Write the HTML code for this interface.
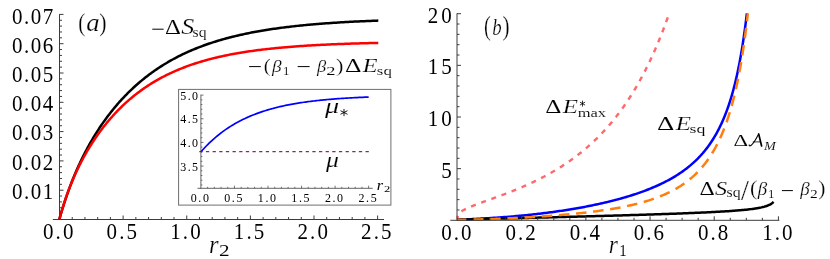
<!DOCTYPE html>
<html><head><meta charset="utf-8"><title>fig</title>
<style>
html,body{margin:0;padding:0;background:#fff;}
body{width:830px;height:259px;overflow:hidden;}
svg{display:block;will-change:transform;}
svg text{font-family:"Liberation Serif",serif;fill:#000;}
</style></head><body>
<svg width="830" height="259" viewBox="0 0 830 259">
<rect width="830" height="259" fill="#fff"/>
<g fill="none" stroke-linejoin="round">
<path d="M59.30,219.50 L59.71,218.06 L60.12,216.61 L60.54,215.17 L60.96,213.73 L61.38,212.29 L61.81,210.85 L62.25,209.42 L62.69,207.98 L63.14,206.55 L63.59,205.12 L64.05,203.69 L64.51,202.26 L64.98,200.83 L65.45,199.41 L65.93,197.99 L66.41,196.57 L66.90,195.15 L67.40,193.73 L67.90,192.32 L68.40,190.90 L68.92,189.49 L69.43,188.08 L69.96,186.68 L70.49,185.27 L71.03,183.87 L71.57,182.47 L72.12,181.08 L72.67,179.68 L73.23,178.29 L73.80,176.90 L74.37,175.51 L74.95,174.13 L75.54,172.75 L76.13,171.37 L76.73,169.99 L77.34,168.62 L77.95,167.25 L78.57,165.88 L79.20,164.52 L79.83,163.16 L80.47,161.80 L81.11,160.44 L81.77,159.09 L82.43,157.74 L83.09,156.40 L83.77,155.06 L84.45,153.72 L85.14,152.39 L85.83,151.06 L86.53,149.73 L87.24,148.41 L87.96,147.09 L88.68,145.77 L89.41,144.46 L90.15,143.16 L90.89,141.85 L91.65,140.55 L92.41,139.26 L93.17,137.97 L93.95,136.68 L94.73,135.40 L95.52,134.13 L96.32,132.85 L97.12,131.59 L97.93,130.33 L98.75,129.07 L99.58,127.81 L100.41,126.57 L101.26,125.32 L102.10,124.09 L102.96,122.86 L103.83,121.63 L104.70,120.41 L105.58,119.19 L106.47,117.98 L107.36,116.78 L108.27,115.58 L109.18,114.39 L110.10,113.20 L111.02,112.02 L111.96,110.85 L112.90,109.68 L113.85,108.52 L114.81,107.36 L115.77,106.21 L116.75,105.07 L117.73,103.93 L118.72,102.80 L119.71,101.68 L120.72,100.57 L121.73,99.46 L122.75,98.36 L123.78,97.27 L124.82,96.18 L125.86,95.10 L126.91,94.03 L127.97,92.97 L129.04,91.91 L130.11,90.86 L131.20,89.82 L132.29,88.79 L133.38,87.77 L134.49,86.75 L135.60,85.75 L136.72,84.75 L137.85,83.76 L138.99,82.78 L140.13,81.80 L141.28,80.84 L142.44,79.88 L143.60,78.94 L144.77,78.00 L145.95,77.07 L147.14,76.15 L148.33,75.24 L149.53,74.34 L150.74,73.45 L151.95,72.56 L153.17,71.69 L154.40,70.83 L155.63,69.97 L156.87,69.13 L158.12,68.29 L159.37,67.46 L160.63,66.65 L161.90,65.84 L163.17,65.04 L164.45,64.26 L165.73,63.48 L167.02,62.71 L168.31,61.95 L169.61,61.20 L170.92,60.46 L172.23,59.73 L173.55,59.01 L174.87,58.30 L176.20,57.60 L177.53,56.91 L178.87,56.23 L180.21,55.56 L181.56,54.89 L182.91,54.24 L184.26,53.60 L185.62,52.96 L186.99,52.34 L188.36,51.72 L189.73,51.11 L191.11,50.52 L192.49,49.93 L193.87,49.35 L195.26,48.78 L196.65,48.22 L198.05,47.66 L199.44,47.12 L200.85,46.58 L202.25,46.06 L203.66,45.54 L205.07,45.03 L206.49,44.53 L207.90,44.03 L209.32,43.55 L210.75,43.07 L212.17,42.60 L213.60,42.14 L215.03,41.69 L216.47,41.24 L217.90,40.80 L219.34,40.37 L220.78,39.95 L222.22,39.53 L223.66,39.12 L225.11,38.72 L226.56,38.33 L228.01,37.94 L229.46,37.56 L230.91,37.18 L232.37,36.82 L233.83,36.46 L235.28,36.10 L236.74,35.75 L238.21,35.41 L239.67,35.08 L241.13,34.75 L242.60,34.42 L244.07,34.11 L245.53,33.80 L247.00,33.49 L248.47,33.19 L249.95,32.89 L251.42,32.60 L252.89,32.32 L254.37,32.04 L255.84,31.77 L257.32,31.50 L258.80,31.24 L260.27,30.98 L261.75,30.72 L263.23,30.47 L264.71,30.23 L266.20,29.99 L267.68,29.75 L269.16,29.52 L270.65,29.30 L272.13,29.07 L273.61,28.86 L275.10,28.64 L276.59,28.43 L278.07,28.23 L279.56,28.03 L281.05,27.83 L282.54,27.63 L284.02,27.44 L285.51,27.26 L287.00,27.07 L288.49,26.89 L289.98,26.72 L291.48,26.54 L292.97,26.37 L294.46,26.21 L295.95,26.04 L297.44,25.88 L298.93,25.73 L300.43,25.57 L301.92,25.42 L303.41,25.27 L304.91,25.13 L306.40,24.98 L307.90,24.84 L309.39,24.71 L310.89,24.57 L312.38,24.44 L313.88,24.31 L315.37,24.18 L316.87,24.06 L318.36,23.94 L319.86,23.82 L321.36,23.70 L322.85,23.59 L324.35,23.47 L325.85,23.36 L327.34,23.25 L328.84,23.15 L330.34,23.04 L331.83,22.94 L333.33,22.84 L334.83,22.74 L336.33,22.65 L337.83,22.55 L339.32,22.46 L340.82,22.37 L342.32,22.28 L343.82,22.19 L345.32,22.11 L346.81,22.02 L348.31,21.94 L349.81,21.86 L351.31,21.78 L352.81,21.70 L354.31,21.62 L355.81,21.55 L357.31,21.48 L358.81,21.40 L360.31,21.33 L361.80,21.27 L363.30,21.20 L364.80,21.13 L366.30,21.07 L367.80,21.00 L369.30,20.94 L370.80,20.88 L372.30,20.82 L373.80,20.76 L375.30,20.70 L376.80,20.64 L378.30,20.59" stroke="#000" stroke-width="2.5"/>
<path d="M59.30,219.50 L59.69,218.05 L60.09,216.60 L60.50,215.15 L60.91,213.71 L61.33,212.26 L61.75,210.82 L62.19,209.38 L62.62,207.94 L63.07,206.51 L63.52,205.07 L63.98,203.64 L64.44,202.21 L64.91,200.78 L65.39,199.36 L65.87,197.93 L66.37,196.51 L66.87,195.09 L67.37,193.68 L67.89,192.27 L68.41,190.86 L68.94,189.45 L69.47,188.04 L70.02,186.64 L70.57,185.24 L71.13,183.85 L71.70,182.46 L72.27,181.07 L72.85,179.68 L73.44,178.30 L74.04,176.92 L74.65,175.54 L75.26,174.17 L75.89,172.80 L76.52,171.44 L77.16,170.08 L77.80,168.72 L78.46,167.37 L79.12,166.02 L79.79,164.67 L80.47,163.33 L81.16,161.99 L81.85,160.66 L82.56,159.33 L83.27,158.01 L83.99,156.69 L84.72,155.37 L85.46,154.06 L86.20,152.76 L86.96,151.46 L87.72,150.16 L88.49,148.87 L89.27,147.58 L90.05,146.30 L90.85,145.03 L91.65,143.76 L92.47,142.49 L93.29,141.23 L94.12,139.98 L94.95,138.73 L95.80,137.49 L96.66,136.25 L97.52,135.02 L98.39,133.80 L99.27,132.58 L100.16,131.36 L101.06,130.16 L101.96,128.96 L102.88,127.76 L103.80,126.58 L104.73,125.40 L105.67,124.23 L106.62,123.06 L107.58,121.90 L108.55,120.75 L109.52,119.60 L110.50,118.47 L111.50,117.34 L112.50,116.22 L113.51,115.10 L114.52,113.99 L115.55,112.90 L116.59,111.81 L117.63,110.72 L118.68,109.65 L119.74,108.59 L120.81,107.53 L121.89,106.48 L122.98,105.44 L124.08,104.41 L125.18,103.39 L126.29,102.38 L127.41,101.38 L128.54,100.39 L129.68,99.40 L130.82,98.43 L131.98,97.47 L133.14,96.51 L134.31,95.57 L135.49,94.63 L136.67,93.71 L137.87,92.80 L139.07,91.89 L140.28,91.00 L141.49,90.12 L142.72,89.24 L143.95,88.38 L145.19,87.53 L146.44,86.69 L147.69,85.86 L148.95,85.04 L150.22,84.23 L151.49,83.43 L152.77,82.65 L154.06,81.87 L155.36,81.11 L156.66,80.35 L157.96,79.61 L159.28,78.88 L160.59,78.15 L161.92,77.44 L163.25,76.74 L164.59,76.05 L165.93,75.37 L167.27,74.71 L168.63,74.05 L169.98,73.40 L171.35,72.77 L172.71,72.14 L174.08,71.52 L175.46,70.92 L176.84,70.32 L178.23,69.74 L179.62,69.16 L181.01,68.60 L182.41,68.05 L183.81,67.50 L185.21,66.97 L186.62,66.44 L188.03,65.92 L189.45,65.42 L190.87,64.92 L192.29,64.43 L193.71,63.95 L195.14,63.48 L196.57,63.02 L198.01,62.57 L199.44,62.13 L200.88,61.69 L202.32,61.27 L203.77,60.85 L205.22,60.44 L206.66,60.03 L208.11,59.64 L209.57,59.25 L211.02,58.87 L212.48,58.50 L213.94,58.14 L215.40,57.78 L216.86,57.43 L218.32,57.09 L219.79,56.76 L221.26,56.43 L222.73,56.11 L224.20,55.79 L225.67,55.48 L227.14,55.18 L228.61,54.88 L230.09,54.59 L231.57,54.31 L233.04,54.03 L234.52,53.76 L236.00,53.49 L237.48,53.23 L238.96,52.98 L240.45,52.73 L241.93,52.48 L243.41,52.24 L244.90,52.01 L246.38,51.78 L247.87,51.55 L249.36,51.33 L250.85,51.12 L252.33,50.91 L253.82,50.70 L255.31,50.50 L256.80,50.30 L258.30,50.11 L259.79,49.92 L261.28,49.73 L262.77,49.55 L264.26,49.37 L265.76,49.20 L267.25,49.03 L268.75,48.87 L270.24,48.70 L271.74,48.54 L273.23,48.39 L274.73,48.24 L276.22,48.09 L277.72,47.94 L279.22,47.80 L280.71,47.66 L282.21,47.52 L283.71,47.39 L285.20,47.26 L286.70,47.13 L288.20,47.01 L289.70,46.88 L291.20,46.76 L292.70,46.65 L294.20,46.53 L295.70,46.42 L297.19,46.31 L298.69,46.20 L300.19,46.10 L301.69,46.00 L303.19,45.90 L304.69,45.80 L306.19,45.70 L307.70,45.61 L309.20,45.52 L310.70,45.43 L312.20,45.34 L313.70,45.25 L315.20,45.17 L316.70,45.09 L318.20,45.01 L319.70,44.93 L321.20,44.85 L322.71,44.77 L324.21,44.70 L325.71,44.63 L327.21,44.56 L328.71,44.49 L330.22,44.42 L331.72,44.36 L333.22,44.29 L334.72,44.23 L336.22,44.17 L337.73,44.11 L339.23,44.05 L340.73,43.99 L342.23,43.93 L343.74,43.88 L345.24,43.82 L346.74,43.77 L348.24,43.72 L349.75,43.67 L351.25,43.62 L352.75,43.57 L354.25,43.52 L355.76,43.48 L357.26,43.43 L358.76,43.39 L360.26,43.34 L361.77,43.30 L363.27,43.26 L364.77,43.22 L366.28,43.18 L367.78,43.14 L369.28,43.10 L370.78,43.07 L372.29,43.03 L373.79,42.99 L375.29,42.96 L376.80,42.93 L378.30,42.89" stroke="#f00" stroke-width="2.5"/>
</g>
<line x1="52.80" y1="219.50" x2="384.00" y2="219.50" stroke="#3c3c3c" stroke-width="1"/>
<line x1="59.50" y1="14.20" x2="59.50" y2="220.00" stroke="#3c3c3c" stroke-width="1"/>
<line x1="72.22" y1="217.00" x2="72.22" y2="219.50" stroke="#3c3c3c" stroke-width="1"/>
<line x1="84.95" y1="217.00" x2="84.95" y2="219.50" stroke="#3c3c3c" stroke-width="1"/>
<line x1="97.68" y1="217.00" x2="97.68" y2="219.50" stroke="#3c3c3c" stroke-width="1"/>
<line x1="110.40" y1="217.00" x2="110.40" y2="219.50" stroke="#3c3c3c" stroke-width="1"/>
<line x1="123.12" y1="215.50" x2="123.12" y2="219.50" stroke="#3c3c3c" stroke-width="1"/>
<line x1="135.85" y1="217.00" x2="135.85" y2="219.50" stroke="#3c3c3c" stroke-width="1"/>
<line x1="148.57" y1="217.00" x2="148.57" y2="219.50" stroke="#3c3c3c" stroke-width="1"/>
<line x1="161.30" y1="217.00" x2="161.30" y2="219.50" stroke="#3c3c3c" stroke-width="1"/>
<line x1="174.03" y1="217.00" x2="174.03" y2="219.50" stroke="#3c3c3c" stroke-width="1"/>
<line x1="186.75" y1="215.50" x2="186.75" y2="219.50" stroke="#3c3c3c" stroke-width="1"/>
<line x1="199.48" y1="217.00" x2="199.48" y2="219.50" stroke="#3c3c3c" stroke-width="1"/>
<line x1="212.20" y1="217.00" x2="212.20" y2="219.50" stroke="#3c3c3c" stroke-width="1"/>
<line x1="224.93" y1="217.00" x2="224.93" y2="219.50" stroke="#3c3c3c" stroke-width="1"/>
<line x1="237.65" y1="217.00" x2="237.65" y2="219.50" stroke="#3c3c3c" stroke-width="1"/>
<line x1="250.38" y1="215.50" x2="250.38" y2="219.50" stroke="#3c3c3c" stroke-width="1"/>
<line x1="263.10" y1="217.00" x2="263.10" y2="219.50" stroke="#3c3c3c" stroke-width="1"/>
<line x1="275.83" y1="217.00" x2="275.83" y2="219.50" stroke="#3c3c3c" stroke-width="1"/>
<line x1="288.55" y1="217.00" x2="288.55" y2="219.50" stroke="#3c3c3c" stroke-width="1"/>
<line x1="301.27" y1="217.00" x2="301.27" y2="219.50" stroke="#3c3c3c" stroke-width="1"/>
<line x1="314.00" y1="215.50" x2="314.00" y2="219.50" stroke="#3c3c3c" stroke-width="1"/>
<line x1="326.73" y1="217.00" x2="326.73" y2="219.50" stroke="#3c3c3c" stroke-width="1"/>
<line x1="339.45" y1="217.00" x2="339.45" y2="219.50" stroke="#3c3c3c" stroke-width="1"/>
<line x1="352.18" y1="217.00" x2="352.18" y2="219.50" stroke="#3c3c3c" stroke-width="1"/>
<line x1="364.90" y1="217.00" x2="364.90" y2="219.50" stroke="#3c3c3c" stroke-width="1"/>
<line x1="377.62" y1="215.50" x2="377.62" y2="219.50" stroke="#3c3c3c" stroke-width="1"/>
<line x1="59.50" y1="213.64" x2="62.00" y2="213.64" stroke="#3c3c3c" stroke-width="1"/>
<line x1="59.50" y1="207.78" x2="62.00" y2="207.78" stroke="#3c3c3c" stroke-width="1"/>
<line x1="59.50" y1="201.92" x2="62.00" y2="201.92" stroke="#3c3c3c" stroke-width="1"/>
<line x1="59.50" y1="196.06" x2="62.00" y2="196.06" stroke="#3c3c3c" stroke-width="1"/>
<line x1="59.50" y1="190.20" x2="63.50" y2="190.20" stroke="#3c3c3c" stroke-width="1"/>
<line x1="59.50" y1="184.34" x2="62.00" y2="184.34" stroke="#3c3c3c" stroke-width="1"/>
<line x1="59.50" y1="178.48" x2="62.00" y2="178.48" stroke="#3c3c3c" stroke-width="1"/>
<line x1="59.50" y1="172.62" x2="62.00" y2="172.62" stroke="#3c3c3c" stroke-width="1"/>
<line x1="59.50" y1="166.76" x2="62.00" y2="166.76" stroke="#3c3c3c" stroke-width="1"/>
<line x1="59.50" y1="160.90" x2="63.50" y2="160.90" stroke="#3c3c3c" stroke-width="1"/>
<line x1="59.50" y1="155.04" x2="62.00" y2="155.04" stroke="#3c3c3c" stroke-width="1"/>
<line x1="59.50" y1="149.18" x2="62.00" y2="149.18" stroke="#3c3c3c" stroke-width="1"/>
<line x1="59.50" y1="143.32" x2="62.00" y2="143.32" stroke="#3c3c3c" stroke-width="1"/>
<line x1="59.50" y1="137.46" x2="62.00" y2="137.46" stroke="#3c3c3c" stroke-width="1"/>
<line x1="59.50" y1="131.60" x2="63.50" y2="131.60" stroke="#3c3c3c" stroke-width="1"/>
<line x1="59.50" y1="125.74" x2="62.00" y2="125.74" stroke="#3c3c3c" stroke-width="1"/>
<line x1="59.50" y1="119.88" x2="62.00" y2="119.88" stroke="#3c3c3c" stroke-width="1"/>
<line x1="59.50" y1="114.02" x2="62.00" y2="114.02" stroke="#3c3c3c" stroke-width="1"/>
<line x1="59.50" y1="108.16" x2="62.00" y2="108.16" stroke="#3c3c3c" stroke-width="1"/>
<line x1="59.50" y1="102.30" x2="63.50" y2="102.30" stroke="#3c3c3c" stroke-width="1"/>
<line x1="59.50" y1="96.44" x2="62.00" y2="96.44" stroke="#3c3c3c" stroke-width="1"/>
<line x1="59.50" y1="90.58" x2="62.00" y2="90.58" stroke="#3c3c3c" stroke-width="1"/>
<line x1="59.50" y1="84.72" x2="62.00" y2="84.72" stroke="#3c3c3c" stroke-width="1"/>
<line x1="59.50" y1="78.86" x2="62.00" y2="78.86" stroke="#3c3c3c" stroke-width="1"/>
<line x1="59.50" y1="73.00" x2="63.50" y2="73.00" stroke="#3c3c3c" stroke-width="1"/>
<line x1="59.50" y1="67.14" x2="62.00" y2="67.14" stroke="#3c3c3c" stroke-width="1"/>
<line x1="59.50" y1="61.28" x2="62.00" y2="61.28" stroke="#3c3c3c" stroke-width="1"/>
<line x1="59.50" y1="55.42" x2="62.00" y2="55.42" stroke="#3c3c3c" stroke-width="1"/>
<line x1="59.50" y1="49.56" x2="62.00" y2="49.56" stroke="#3c3c3c" stroke-width="1"/>
<line x1="59.50" y1="43.70" x2="63.50" y2="43.70" stroke="#3c3c3c" stroke-width="1"/>
<line x1="59.50" y1="37.84" x2="62.00" y2="37.84" stroke="#3c3c3c" stroke-width="1"/>
<line x1="59.50" y1="31.98" x2="62.00" y2="31.98" stroke="#3c3c3c" stroke-width="1"/>
<line x1="59.50" y1="26.12" x2="62.00" y2="26.12" stroke="#3c3c3c" stroke-width="1"/>
<line x1="59.50" y1="20.26" x2="62.00" y2="20.26" stroke="#3c3c3c" stroke-width="1"/>
<line x1="59.50" y1="14.40" x2="63.50" y2="14.40" stroke="#3c3c3c" stroke-width="1"/>
<text transform="translate(59.20,239.40) scale(1,1.055)" font-size="21" text-anchor="middle" letter-spacing="2.1">0.0</text>
<text transform="translate(122.83,239.40) scale(1,1.055)" font-size="21" text-anchor="middle" letter-spacing="2.1">0.5</text>
<text transform="translate(186.45,239.40) scale(1,1.055)" font-size="21" text-anchor="middle" letter-spacing="2.1">1.0</text>
<text transform="translate(250.07,239.40) scale(1,1.055)" font-size="21" text-anchor="middle" letter-spacing="2.1">1.5</text>
<text transform="translate(313.70,239.40) scale(1,1.055)" font-size="21" text-anchor="middle" letter-spacing="2.1">2.0</text>
<text transform="translate(377.32,239.40) scale(1,1.055)" font-size="21" text-anchor="middle" letter-spacing="2.1">2.5</text>
<text transform="translate(54.80,198.60) scale(1,1.055)" font-size="21" text-anchor="end" letter-spacing="1.5">0.01</text>
<text transform="translate(54.80,169.52) scale(1,1.055)" font-size="21" text-anchor="end" letter-spacing="1.5">0.02</text>
<text transform="translate(54.80,140.43) scale(1,1.055)" font-size="21" text-anchor="end" letter-spacing="1.5">0.03</text>
<text transform="translate(54.80,111.35) scale(1,1.055)" font-size="21" text-anchor="end" letter-spacing="1.5">0.04</text>
<text transform="translate(54.80,82.27) scale(1,1.055)" font-size="21" text-anchor="end" letter-spacing="1.5">0.05</text>
<text transform="translate(54.80,53.18) scale(1,1.055)" font-size="21" text-anchor="end" letter-spacing="1.5">0.06</text>
<text transform="translate(54.80,24.10) scale(1,1.055)" font-size="21" text-anchor="end" letter-spacing="1.5">0.07</text>
<rect x="178.6" y="89.4" width="212.3" height="115.7" fill="#fff" stroke="#6e6e6e" stroke-width="1"/>
<line x1="199.3" y1="151.6" x2="370.6" y2="151.6" stroke="#8c2463" stroke-width="1.3" stroke-dasharray="3.25 3.4"/>
<path d="M200.90,151.86 L202.31,150.27 L203.72,148.73 L205.13,147.23 L206.54,145.77 L207.95,144.36 L209.36,142.98 L210.77,141.64 L212.18,140.34 L213.59,139.07 L215.00,137.84 L216.41,136.65 L217.82,135.49 L219.23,134.36 L220.64,133.26 L222.04,132.19 L223.45,131.16 L224.86,130.15 L226.27,129.17 L227.68,128.21 L229.09,127.29 L230.50,126.39 L231.91,125.51 L233.32,124.66 L234.73,123.84 L236.14,123.03 L237.55,122.25 L238.96,121.49 L240.37,120.75 L241.78,120.04 L243.19,119.34 L244.60,118.66 L246.01,118.00 L247.42,117.36 L248.83,116.74 L250.24,116.13 L251.65,115.55 L253.06,114.97 L254.47,114.42 L255.88,113.88 L257.29,113.35 L258.70,112.84 L260.11,112.35 L261.52,111.87 L262.93,111.40 L264.33,110.94 L265.74,110.50 L267.15,110.07 L268.56,109.65 L269.97,109.24 L271.38,108.85 L272.79,108.46 L274.20,108.09 L275.61,107.73 L277.02,107.37 L278.43,107.03 L279.84,106.70 L281.25,106.37 L282.66,106.06 L284.07,105.75 L285.48,105.45 L286.89,105.16 L288.30,104.88 L289.71,104.61 L291.12,104.34 L292.53,104.08 L293.94,103.83 L295.35,103.59 L296.76,103.35 L298.17,103.12 L299.58,102.90 L300.99,102.68 L302.40,102.47 L303.81,102.26 L305.22,102.06 L306.62,101.86 L308.03,101.68 L309.44,101.49 L310.85,101.31 L312.26,101.14 L313.67,100.97 L315.08,100.81 L316.49,100.65 L317.90,100.49 L319.31,100.34 L320.72,100.19 L322.13,100.05 L323.54,99.91 L324.95,99.78 L326.36,99.65 L327.77,99.52 L329.18,99.40 L330.59,99.28 L332.00,99.16 L333.41,99.05 L334.82,98.94 L336.23,98.83 L337.64,98.72 L339.05,98.62 L340.46,98.52 L341.87,98.43 L343.28,98.34 L344.69,98.25 L346.10,98.16 L347.51,98.07 L348.91,97.99 L350.32,97.91 L351.73,97.83 L353.14,97.75 L354.55,97.68 L355.96,97.61 L357.37,97.54 L358.78,97.47 L360.19,97.40 L361.60,97.34 L363.01,97.28 L364.42,97.21 L365.83,97.16 L367.24,97.10 L368.65,97.04" fill="none" stroke="#00f" stroke-width="1.7"/>
<line x1="197.50" y1="188.30" x2="372.65" y2="188.30" stroke="#3c3c3c" stroke-width="0.8"/>
<line x1="200.90" y1="94.70" x2="200.90" y2="188.70" stroke="#3c3c3c" stroke-width="0.8"/>
<line x1="207.61" y1="186.80" x2="207.61" y2="188.30" stroke="#3c3c3c" stroke-width="0.7"/>
<line x1="214.32" y1="186.80" x2="214.32" y2="188.30" stroke="#3c3c3c" stroke-width="0.7"/>
<line x1="221.03" y1="186.80" x2="221.03" y2="188.30" stroke="#3c3c3c" stroke-width="0.7"/>
<line x1="227.74" y1="186.80" x2="227.74" y2="188.30" stroke="#3c3c3c" stroke-width="0.7"/>
<line x1="234.45" y1="185.70" x2="234.45" y2="188.30" stroke="#3c3c3c" stroke-width="0.7"/>
<line x1="241.16" y1="186.80" x2="241.16" y2="188.30" stroke="#3c3c3c" stroke-width="0.7"/>
<line x1="247.87" y1="186.80" x2="247.87" y2="188.30" stroke="#3c3c3c" stroke-width="0.7"/>
<line x1="254.58" y1="186.80" x2="254.58" y2="188.30" stroke="#3c3c3c" stroke-width="0.7"/>
<line x1="261.29" y1="186.80" x2="261.29" y2="188.30" stroke="#3c3c3c" stroke-width="0.7"/>
<line x1="268.00" y1="185.70" x2="268.00" y2="188.30" stroke="#3c3c3c" stroke-width="0.7"/>
<line x1="274.71" y1="186.80" x2="274.71" y2="188.30" stroke="#3c3c3c" stroke-width="0.7"/>
<line x1="281.42" y1="186.80" x2="281.42" y2="188.30" stroke="#3c3c3c" stroke-width="0.7"/>
<line x1="288.13" y1="186.80" x2="288.13" y2="188.30" stroke="#3c3c3c" stroke-width="0.7"/>
<line x1="294.84" y1="186.80" x2="294.84" y2="188.30" stroke="#3c3c3c" stroke-width="0.7"/>
<line x1="301.55" y1="185.70" x2="301.55" y2="188.30" stroke="#3c3c3c" stroke-width="0.7"/>
<line x1="308.26" y1="186.80" x2="308.26" y2="188.30" stroke="#3c3c3c" stroke-width="0.7"/>
<line x1="314.97" y1="186.80" x2="314.97" y2="188.30" stroke="#3c3c3c" stroke-width="0.7"/>
<line x1="321.68" y1="186.80" x2="321.68" y2="188.30" stroke="#3c3c3c" stroke-width="0.7"/>
<line x1="328.39" y1="186.80" x2="328.39" y2="188.30" stroke="#3c3c3c" stroke-width="0.7"/>
<line x1="335.10" y1="185.70" x2="335.10" y2="188.30" stroke="#3c3c3c" stroke-width="0.7"/>
<line x1="341.81" y1="186.80" x2="341.81" y2="188.30" stroke="#3c3c3c" stroke-width="0.7"/>
<line x1="348.52" y1="186.80" x2="348.52" y2="188.30" stroke="#3c3c3c" stroke-width="0.7"/>
<line x1="355.23" y1="186.80" x2="355.23" y2="188.30" stroke="#3c3c3c" stroke-width="0.7"/>
<line x1="361.94" y1="186.80" x2="361.94" y2="188.30" stroke="#3c3c3c" stroke-width="0.7"/>
<line x1="368.65" y1="185.70" x2="368.65" y2="188.30" stroke="#3c3c3c" stroke-width="0.7"/>
<line x1="200.90" y1="95.10" x2="203.50" y2="95.10" stroke="#3c3c3c" stroke-width="0.7"/>
<line x1="200.90" y1="99.83" x2="202.40" y2="99.83" stroke="#3c3c3c" stroke-width="0.7"/>
<line x1="200.90" y1="104.56" x2="202.40" y2="104.56" stroke="#3c3c3c" stroke-width="0.7"/>
<line x1="200.90" y1="109.29" x2="202.40" y2="109.29" stroke="#3c3c3c" stroke-width="0.7"/>
<line x1="200.90" y1="114.02" x2="202.40" y2="114.02" stroke="#3c3c3c" stroke-width="0.7"/>
<line x1="200.90" y1="118.75" x2="203.50" y2="118.75" stroke="#3c3c3c" stroke-width="0.7"/>
<line x1="200.90" y1="123.48" x2="202.40" y2="123.48" stroke="#3c3c3c" stroke-width="0.7"/>
<line x1="200.90" y1="128.21" x2="202.40" y2="128.21" stroke="#3c3c3c" stroke-width="0.7"/>
<line x1="200.90" y1="132.94" x2="202.40" y2="132.94" stroke="#3c3c3c" stroke-width="0.7"/>
<line x1="200.90" y1="137.67" x2="202.40" y2="137.67" stroke="#3c3c3c" stroke-width="0.7"/>
<line x1="200.90" y1="142.40" x2="203.50" y2="142.40" stroke="#3c3c3c" stroke-width="0.7"/>
<line x1="200.90" y1="147.13" x2="202.40" y2="147.13" stroke="#3c3c3c" stroke-width="0.7"/>
<line x1="200.90" y1="151.86" x2="202.40" y2="151.86" stroke="#3c3c3c" stroke-width="0.7"/>
<line x1="200.90" y1="156.59" x2="202.40" y2="156.59" stroke="#3c3c3c" stroke-width="0.7"/>
<line x1="200.90" y1="161.32" x2="202.40" y2="161.32" stroke="#3c3c3c" stroke-width="0.7"/>
<line x1="200.90" y1="166.05" x2="203.50" y2="166.05" stroke="#3c3c3c" stroke-width="0.7"/>
<line x1="200.90" y1="170.78" x2="202.40" y2="170.78" stroke="#3c3c3c" stroke-width="0.7"/>
<line x1="200.90" y1="175.51" x2="202.40" y2="175.51" stroke="#3c3c3c" stroke-width="0.7"/>
<line x1="200.90" y1="180.24" x2="202.40" y2="180.24" stroke="#3c3c3c" stroke-width="0.7"/>
<line x1="200.90" y1="184.97" x2="202.40" y2="184.97" stroke="#3c3c3c" stroke-width="0.7"/>
<text transform="translate(200.60,201.60) scale(1,1.03)" font-size="12" text-anchor="middle" letter-spacing="1.6">0.0</text>
<text transform="translate(234.15,201.60) scale(1,1.03)" font-size="12" text-anchor="middle" letter-spacing="1.6">0.5</text>
<text transform="translate(267.70,201.60) scale(1,1.03)" font-size="12" text-anchor="middle" letter-spacing="1.6">1.0</text>
<text transform="translate(301.25,201.60) scale(1,1.03)" font-size="12" text-anchor="middle" letter-spacing="1.6">1.5</text>
<text transform="translate(334.80,201.60) scale(1,1.03)" font-size="12" text-anchor="middle" letter-spacing="1.6">2.0</text>
<text transform="translate(368.35,201.60) scale(1,1.03)" font-size="12" text-anchor="middle" letter-spacing="1.6">2.5</text>
<text transform="translate(199.50,99.80) scale(1,1.03)" font-size="12" text-anchor="end" letter-spacing="1.4">5.0</text>
<text transform="translate(199.50,123.45) scale(1,1.03)" font-size="12" text-anchor="end" letter-spacing="1.4">4.5</text>
<text transform="translate(199.50,147.10) scale(1,1.03)" font-size="12" text-anchor="end" letter-spacing="1.4">4.0</text>
<text transform="translate(199.50,170.75) scale(1,1.03)" font-size="12" text-anchor="end" letter-spacing="1.4">3.5</text>
<g fill="none" stroke-linejoin="round">
<path d="M457.50,219.30 L457.51,218.60 L457.54,217.90 L457.60,217.21 L457.72,216.52 L457.90,215.84 M461.50,211.42 L462.33,210.86 L463.17,210.33 L464.04,209.83 L464.92,209.35 L465.81,208.89 M471.10,206.52 L472.02,206.14 L472.95,205.77 L473.88,205.40 L474.81,205.04 L475.75,204.68 M481.19,202.66 L482.13,202.32 L483.07,201.98 L484.01,201.64 L484.95,201.30 L485.89,200.97 M491.35,199.01 L492.29,198.67 L493.23,198.33 L494.17,197.99 L495.11,197.65 L496.05,197.31 M501.49,195.30 L502.43,194.95 L503.36,194.60 L504.30,194.25 L505.24,193.89 L506.17,193.53 M511.57,191.43 L512.50,191.06 L513.43,190.69 L514.36,190.31 L515.28,189.94 L516.21,189.56 M521.56,187.31 L522.48,186.92 L523.40,186.52 L524.31,186.12 L525.23,185.72 L526.14,185.31 M531.42,182.90 L532.32,182.48 L533.23,182.05 L534.13,181.62 L535.03,181.19 L535.93,180.75 M541.11,178.15 L542.00,177.69 L542.89,177.23 L543.78,176.77 L544.66,176.30 L545.54,175.83 M550.62,173.03 L551.49,172.53 L552.36,172.03 L553.22,171.53 L554.08,171.03 L554.94,170.52 M559.89,167.49 L560.74,166.96 L561.58,166.42 L562.43,165.88 L563.26,165.34 L564.10,164.79 M568.90,161.54 L569.72,160.97 L570.54,160.39 L571.36,159.81 L572.17,159.23 L572.98,158.64 M577.61,155.16 L578.41,154.55 L579.19,153.93 L579.98,153.31 L580.76,152.69 L581.54,152.06 M585.99,148.35 L586.75,147.69 L587.51,147.04 L588.26,146.38 L589.01,145.72 L589.75,145.05 M594.02,141.12 L594.74,140.43 L595.46,139.73 L596.18,139.04 L596.89,138.34 L597.60,137.63 M601.66,133.49 L602.35,132.76 L603.03,132.04 L603.72,131.30 L604.39,130.57 L605.07,129.83 M608.92,125.49 L609.57,124.74 L610.22,123.98 L610.87,123.21 L611.51,122.44 L612.15,121.68 M615.79,117.16 L616.40,116.37 L617.02,115.58 L617.63,114.79 L618.23,114.00 L618.84,113.20 M622.27,108.52 L622.85,107.71 L623.43,106.90 L624.01,106.08 L624.58,105.26 L625.15,104.43 M628.38,99.62 L628.93,98.78 L629.47,97.95 L630.02,97.10 L630.55,96.26 L631.09,95.42 M634.14,90.48 L634.65,89.62 L635.16,88.77 L635.67,87.91 L636.18,87.04 L636.68,86.18 M639.55,81.14 L640.03,80.26 L640.52,79.39 L641.00,78.51 L641.47,77.63 L641.95,76.75 M644.65,71.62 L645.10,70.73 L645.56,69.84 L646.01,68.94 L646.46,68.05 L646.90,67.15 M649.45,61.94 L649.88,61.04 L650.30,60.14 L650.73,59.23 L651.15,58.32 L651.57,57.42 M653.97,52.14 L654.38,51.22 L654.78,50.31 L655.18,49.39 L655.58,48.47 L655.98,47.56 M658.24,42.22 L658.62,41.29 L659.01,40.37 L659.39,39.44 L659.76,38.52 L660.14,37.59 M662.28,32.20 L662.64,31.27 L663.00,30.33 L663.36,29.40 L663.72,28.47 L664.07,27.53 M666.10,22.10 L666.44,21.16 L666.78,20.22 L667.12,19.28 L667.46,18.34 L667.80,17.39" stroke="#ff686c" stroke-width="2.4"/>
<path d="M457.50,219.70 L459.00,219.64 L460.50,219.58 L462.00,219.52 L463.51,219.46 L465.01,219.40 L466.51,219.34 L468.01,219.27 L469.51,219.20 L471.01,219.13 L472.51,219.06 L474.01,218.99 L475.51,218.91 L477.02,218.83 L478.52,218.76 L480.02,218.67 L481.52,218.59 L483.02,218.51 L484.52,218.42 L486.02,218.33 L487.52,218.24 L489.02,218.15 L490.52,218.06 L492.02,217.96 L493.52,217.86 L495.02,217.76 L496.51,217.66 L498.01,217.55 L499.51,217.45 L501.01,217.34 L502.51,217.23 L504.01,217.11 L505.51,217.00 L507.00,216.88 L508.50,216.76 L510.00,216.64 L511.50,216.51 L512.99,216.38 L514.49,216.25 L515.99,216.12 L517.49,215.99 L518.98,215.85 L520.48,215.71 L521.97,215.57 L523.47,215.42 L524.96,215.28 L526.46,215.13 L527.95,214.97 L529.45,214.82 L530.94,214.66 L532.44,214.50 L533.93,214.33 L535.42,214.17 L536.92,214.00 L538.41,213.83 L539.90,213.65 L541.40,213.47 L542.89,213.29 L544.38,213.11 L545.87,212.92 L547.36,212.73 L548.85,212.54 L550.34,212.34 L551.83,212.14 L553.32,211.94 L554.81,211.74 L556.30,211.53 L557.78,211.32 L559.27,211.10 L560.76,210.88 L562.24,210.66 L563.73,210.43 L565.21,210.20 L566.70,209.97 L568.18,209.74 L569.67,209.50 L571.15,209.25 L572.63,209.01 L574.11,208.76 L575.59,208.50 L577.07,208.25 L578.55,207.98 L580.03,207.72 L581.51,207.45 L582.99,207.17 L584.47,206.90 L585.94,206.62 L587.42,206.33 L588.89,206.04 L590.36,205.75 L591.84,205.45 L593.31,205.14 L594.78,204.84 L596.25,204.52 L597.72,204.21 L599.19,203.89 L600.65,203.56 L602.12,203.23 L603.58,202.89 L605.05,202.55 L606.51,202.21 L607.97,201.86 L609.43,201.50 L610.89,201.14 L612.35,200.77 L613.80,200.40 L615.26,200.02 L616.71,199.64 L618.16,199.25 L619.61,198.85 L621.06,198.45 L622.50,198.04 L623.95,197.63 L625.39,197.21 L626.83,196.78 L628.27,196.34 L629.71,195.90 L631.14,195.45 L632.57,195.00 L634.00,194.54 L635.43,194.07 L636.85,193.59 L638.28,193.10 L639.70,192.61 L641.11,192.11 L642.53,191.60 L643.94,191.08 L645.34,190.55 L646.75,190.02 L648.15,189.47 L649.54,188.92 L650.94,188.35 L652.33,187.78 L653.71,187.20 L655.09,186.60 L656.47,186.00 L657.84,185.38 L659.20,184.76 L660.56,184.12 L661.92,183.47 L663.27,182.81 L664.61,182.14 L665.95,181.45 L667.28,180.76 L668.61,180.05 L669.93,179.33 L671.24,178.59 L672.54,177.84 L673.84,177.08 L675.12,176.31 L676.40,175.52 L677.67,174.72 L678.93,173.90 L680.18,173.07 L681.43,172.22 L682.66,171.36 L683.88,170.48 L685.09,169.59 L686.29,168.68 L687.47,167.76 L688.65,166.83 L689.81,165.87 L690.96,164.91 L692.10,163.92 L693.22,162.93 L694.33,161.91 L695.43,160.88 L696.51,159.84 L697.57,158.78 L698.63,157.71 L699.66,156.62 L700.69,155.52 L701.69,154.41 L702.69,153.28 L703.66,152.13 L704.62,150.98 L705.56,149.81 L706.49,148.63 L707.40,147.43 L708.30,146.23 L709.18,145.01 L710.04,143.78 L710.89,142.54 L711.72,141.29 L712.54,140.03 L713.34,138.76 L714.13,137.47 L714.90,136.18 L715.65,134.89 L716.39,133.58 L717.12,132.26 L717.83,130.94 L718.53,129.61 L719.21,128.27 L719.88,126.92 L720.53,125.57 L721.17,124.21 L721.80,122.85 L722.42,121.48 L723.02,120.10 L723.61,118.72 L724.19,117.33 L724.76,115.94 L725.31,114.54 L725.86,113.14 L726.39,111.74 L726.91,110.33 L727.43,108.92 L727.93,107.50 L728.42,106.08 L728.90,104.66 L729.37,103.23 L729.84,101.80 L730.29,100.37 L730.74,98.93 L731.17,97.49 L731.60,96.05 L732.02,94.61 L732.43,93.17 L732.84,91.72 L733.24,90.27 L733.63,88.82 L734.01,87.37 L734.38,85.91 L734.75,84.45 L735.11,82.99 L735.47,81.53 L735.82,80.07 L736.16,78.61 L736.49,77.15 L736.83,75.68 L737.15,74.21 L737.47,72.74 L737.78,71.27 L738.09,69.80 L738.39,68.33 L738.69,66.86 L738.99,65.39 L739.27,63.91 L739.56,62.44 L739.84,60.96 L740.11,59.48 L740.38,58.00 L740.65,56.52 L740.91,55.04 L741.17,53.56 L741.42,52.08 L741.67,50.60 L741.91,49.12 L742.16,47.64 L742.39,46.15 L742.63,44.67 L742.86,43.18 L743.09,41.70 L743.31,40.21 L743.53,38.73 L743.75,37.24 L743.97,35.75 L744.18,34.26 L744.39,32.78 L744.59,31.29 L744.80,29.80 L745.00,28.31 L745.19,26.82 L745.39,25.33 L745.58,23.84 L745.77,22.35 L745.96,20.86 L746.14,19.37 L746.32,17.87 L746.50,16.38 L746.68,14.89 L746.86,13.40" stroke="#00f" stroke-width="2.5"/>
<path d="M457.50,219.70 L459.01,219.66 L460.51,219.62 L462.02,219.59 L463.52,219.55 L465.03,219.51 L466.54,219.47 L468.04,219.43 L469.55,219.39 L471.05,219.36 L472.56,219.32 L474.06,219.28 L475.57,219.24 L477.08,219.20 L478.58,219.16 L480.09,219.13 L481.59,219.09 L483.10,219.05 L484.61,219.01 L486.11,218.97 L487.62,218.94 L489.12,218.90 L490.63,218.86 L492.13,218.82 L493.64,218.78 L495.15,218.74 L496.65,218.70 L498.16,218.67 L499.66,218.63 L501.17,218.59 L502.68,218.55 L504.18,218.51 L505.69,218.47 L507.19,218.44 L508.70,218.40 L510.20,218.36 L511.71,218.32 L513.22,218.28 L514.72,218.24 L516.23,218.20 L517.73,218.17 L519.24,218.13 L520.75,218.09 L522.25,218.05 L523.76,218.01 L525.26,217.97 L526.77,217.93 L528.27,217.89 L529.78,217.86 L531.29,217.82 L532.79,217.78 L534.30,217.74 L535.80,217.70 L537.31,217.66 L538.82,217.62 L540.32,217.58 L541.83,217.54 L543.33,217.50 L544.84,217.47 L546.34,217.43 L547.85,217.39 L549.36,217.35 L550.86,217.31 L552.37,217.27 L553.87,217.23 L555.38,217.19 L556.89,217.15 L558.39,217.11 L559.90,217.07 L561.40,217.03 L562.91,216.99 L564.41,216.95 L565.92,216.91 L567.43,216.87 L568.93,216.83 L570.44,216.79 L571.94,216.75 L573.45,216.71 L574.95,216.67 L576.46,216.63 L577.97,216.59 L579.47,216.55 L580.98,216.51 L582.48,216.47 L583.99,216.43 L585.50,216.39 L587.00,216.35 L588.51,216.31 L590.01,216.26 L591.52,216.22 L593.02,216.18 L594.53,216.14 L596.04,216.10 L597.54,216.06 L599.05,216.02 L600.55,215.97 L602.06,215.93 L603.56,215.89 L605.07,215.85 L606.58,215.81 L608.08,215.76 L609.59,215.72 L611.09,215.68 L612.60,215.64 L614.10,215.59 L615.61,215.55 L617.12,215.51 L618.62,215.46 L620.13,215.42 L621.63,215.38 L623.14,215.33 L624.64,215.29 L626.15,215.24 L627.66,215.20 L629.16,215.16 L630.67,215.11 L632.17,215.07 L633.68,215.02 L635.18,214.98 L636.69,214.93 L638.19,214.88 L639.70,214.84 L641.21,214.79 L642.71,214.75 L644.22,214.70 L645.72,214.65 L647.23,214.60 L648.73,214.56 L650.24,214.51 L651.75,214.46 L653.25,214.41 L654.76,214.36 L656.26,214.31 L657.77,214.26 L659.27,214.21 L660.78,214.16 L662.28,214.11 L663.79,214.06 L665.29,214.01 L666.80,213.96 L668.31,213.91 L669.81,213.86 L671.32,213.80 L672.82,213.75 L674.33,213.70 L675.83,213.64 L677.34,213.59 L678.84,213.53 L680.35,213.47 L681.85,213.42 L683.36,213.36 L684.86,213.30 L686.37,213.24 L687.87,213.18 L689.38,213.12 L690.88,213.06 L692.39,213.00 L693.89,212.94 L695.40,212.87 L696.90,212.81 L698.41,212.75 L699.91,212.68 L701.42,212.61 L702.92,212.54 L704.43,212.47 L705.93,212.40 L707.44,212.33 L708.94,212.26 L710.45,212.18 L711.95,212.11 L713.46,212.03 L714.96,211.95 L716.46,211.87 L717.97,211.79 L719.47,211.70 L720.98,211.62 L722.48,211.53 L723.98,211.44 L725.49,211.34 L726.99,211.25 L728.49,211.15 L730.00,211.05 L731.50,210.94 L733.00,210.83 L734.50,210.72 L736.00,210.60 L737.51,210.48 L739.01,210.36 L740.51,210.23 L742.01,210.09 L743.51,209.95 L745.01,209.80 L746.50,209.64 L748.00,209.48 L749.50,209.30 L750.99,209.12 L752.49,208.92 L753.98,208.72 L755.47,208.49 L756.96,208.25 L758.44,207.99 L759.92,207.71 L761.39,207.40 L762.86,207.05 L764.32,206.67 L765.76,206.24 L767.19,205.76 L768.59,205.20 L769.95,204.56 L771.25,203.81 L772.48,202.93 L773.59,201.91" stroke="#000" stroke-width="2.5"/>
<path d="M457.50,219.70 L459.00,219.70 L460.50,219.69 L462.01,219.69 L463.51,219.67 L465.01,219.66 L466.51,219.64 L468.01,219.63 L469.52,219.60 L471.02,219.58 L472.52,219.55 L474.02,219.52 L475.52,219.49 L477.02,219.46 L478.53,219.43 L480.03,219.39 L481.53,219.35 L483.03,219.31 L484.53,219.26 L486.03,219.22 L487.53,219.17 L489.04,219.12 L490.54,219.07 L492.04,219.02 L493.54,218.97 L495.04,218.91 L496.54,218.85 L498.04,218.80 L499.54,218.74 L501.04,218.67 L502.54,218.61 L504.05,218.55 L505.55,218.48 L507.05,218.41 L508.55,218.34 L510.05,218.27 L511.55,218.20 L513.05,218.13 L514.55,218.05 L516.05,217.98 L517.55,217.90 L519.05,217.82 L520.55,217.74 L522.05,217.66 L523.55,217.57 L525.05,217.49 L526.55,217.40 L528.05,217.32 L529.55,217.23 L531.04,217.14 L532.54,217.04 L534.04,216.95 L535.54,216.86 L537.04,216.76 L538.54,216.66 L540.04,216.56 L541.54,216.46 L543.04,216.36 L544.53,216.25 L546.03,216.15 L547.53,216.04 L549.03,215.93 L550.53,215.82 L552.02,215.70 L553.52,215.59 L555.02,215.47 L556.52,215.35 L558.01,215.23 L559.51,215.11 L561.01,214.98 L562.50,214.85 L564.00,214.72 L565.50,214.59 L566.99,214.46 L568.49,214.32 L569.98,214.18 L571.48,214.04 L572.97,213.90 L574.47,213.75 L575.96,213.60 L577.46,213.45 L578.95,213.29 L580.45,213.13 L581.94,212.97 L583.43,212.81 L584.92,212.64 L586.42,212.47 L587.91,212.30 L589.40,212.12 L590.89,211.94 L592.38,211.75 L593.87,211.57 L595.36,211.37 L596.85,211.18 L598.34,210.98 L599.83,210.77 L601.31,210.56 L602.80,210.35 L604.29,210.13 L605.77,209.91 L607.26,209.68 L608.74,209.45 L610.22,209.21 L611.71,208.97 L613.19,208.72 L614.67,208.47 L616.15,208.21 L617.63,207.94 L619.10,207.67 L620.58,207.39 L622.05,207.11 L623.53,206.82 L625.00,206.52 L626.47,206.21 L627.94,205.90 L629.41,205.58 L630.87,205.25 L632.34,204.91 L633.80,204.56 L635.26,204.21 L636.71,203.85 L638.17,203.47 L639.62,203.09 L641.07,202.70 L642.52,202.30 L643.96,201.89 L645.41,201.46 L646.84,201.03 L648.28,200.59 L649.71,200.13 L651.14,199.66 L652.56,199.18 L653.98,198.69 L655.39,198.18 L656.80,197.66 L658.21,197.13 L659.61,196.59 L661.00,196.02 L662.39,195.45 L663.77,194.86 L665.14,194.25 L666.51,193.63 L667.87,192.99 L669.22,192.34 L670.57,191.67 L671.90,190.99 L673.23,190.28 L674.55,189.56 L675.86,188.82 L677.15,188.07 L678.44,187.29 L679.72,186.50 L680.98,185.69 L682.24,184.86 L683.48,184.02 L684.70,183.15 L685.92,182.27 L687.12,181.37 L688.31,180.45 L689.48,179.51 L690.64,178.55 L691.78,177.58 L692.91,176.58 L694.02,175.57 L695.12,174.55 L696.20,173.50 L697.26,172.44 L698.31,171.37 L699.34,170.27 L700.35,169.16 L701.35,168.04 L702.33,166.90 L703.29,165.75 L704.23,164.58 L705.16,163.40 L706.07,162.21 L706.97,161.00 L707.85,159.78 L708.71,158.55 L709.55,157.31 L710.38,156.06 L711.19,154.79 L711.99,153.52 L712.77,152.24 L713.54,150.94 L714.29,149.64 L715.02,148.33 L715.74,147.02 L716.45,145.69 L717.14,144.36 L717.82,143.02 L718.48,141.67 L719.13,140.32 L719.77,138.96 L720.40,137.59 L721.01,136.22 L721.61,134.84 L722.20,133.46 L722.78,132.07 L723.34,130.68 L723.90,129.29 L724.44,127.89 L724.98,126.48 L725.50,125.08 L726.01,123.66 L726.52,122.25 L727.01,120.83 L727.50,119.41 L727.97,117.98 L728.44,116.56 L728.90,115.13 L729.35,113.69 L729.79,112.26 L730.22,110.82 L730.65,109.38 L731.07,107.94 L731.48,106.49 L731.88,105.04 L732.28,103.60 L732.67,102.14 L733.05,100.69 L733.42,99.24 L733.79,97.78 L734.16,96.33 L734.51,94.87 L734.87,93.41 L735.21,91.94 L735.55,90.48 L735.89,89.02 L736.22,87.55 L736.54,86.08 L736.86,84.62 L737.17,83.15 L737.48,81.68 L737.78,80.21 L738.08,78.74 L738.38,77.26 L738.67,75.79 L738.96,74.31 L739.24,72.84 L739.51,71.36 L739.79,69.89 L740.06,68.41 L740.32,66.93 L740.58,65.45 L740.84,63.97 L741.10,62.49 L741.35,61.01 L741.59,59.53 L741.84,58.05 L742.08,56.56 L742.31,55.08 L742.55,53.60 L742.78,52.11 L743.00,50.63 L743.23,49.14 L743.45,47.66 L743.67,46.17 L743.88,44.68 L744.10,43.20 L744.31,41.71 L744.51,40.22 L744.72,38.73 L744.92,37.25 L745.12,35.76 L745.32,34.27 L745.51,32.78 L745.71,31.29 L745.89,29.80 L746.08,28.31 L746.27,26.82 L746.45,25.33 L746.63,23.84 L746.81,22.34 L746.99,20.85 L747.16,19.36 L747.33,17.87 L747.50,16.38 L747.67,14.88 L747.84,13.39" stroke="#ff7f0e" stroke-width="2.5" stroke-dasharray="10.55 6.65" stroke-dashoffset="1.7"/>
</g>
<line x1="450.30" y1="220.30" x2="779.40" y2="220.30" stroke="#3c3c3c" stroke-width="1"/>
<line x1="457.00" y1="13.30" x2="457.00" y2="220.80" stroke="#3c3c3c" stroke-width="1"/>
<line x1="473.55" y1="217.80" x2="473.55" y2="220.30" stroke="#3c3c3c" stroke-width="1"/>
<line x1="489.59" y1="217.80" x2="489.59" y2="220.30" stroke="#3c3c3c" stroke-width="1"/>
<line x1="505.63" y1="217.80" x2="505.63" y2="220.30" stroke="#3c3c3c" stroke-width="1"/>
<line x1="521.68" y1="216.30" x2="521.68" y2="220.30" stroke="#3c3c3c" stroke-width="1"/>
<line x1="537.73" y1="217.80" x2="537.73" y2="220.30" stroke="#3c3c3c" stroke-width="1"/>
<line x1="553.77" y1="217.80" x2="553.77" y2="220.30" stroke="#3c3c3c" stroke-width="1"/>
<line x1="569.82" y1="217.80" x2="569.82" y2="220.30" stroke="#3c3c3c" stroke-width="1"/>
<line x1="585.86" y1="216.30" x2="585.86" y2="220.30" stroke="#3c3c3c" stroke-width="1"/>
<line x1="601.90" y1="217.80" x2="601.90" y2="220.30" stroke="#3c3c3c" stroke-width="1"/>
<line x1="617.95" y1="217.80" x2="617.95" y2="220.30" stroke="#3c3c3c" stroke-width="1"/>
<line x1="634.00" y1="217.80" x2="634.00" y2="220.30" stroke="#3c3c3c" stroke-width="1"/>
<line x1="650.04" y1="216.30" x2="650.04" y2="220.30" stroke="#3c3c3c" stroke-width="1"/>
<line x1="666.09" y1="217.80" x2="666.09" y2="220.30" stroke="#3c3c3c" stroke-width="1"/>
<line x1="682.13" y1="217.80" x2="682.13" y2="220.30" stroke="#3c3c3c" stroke-width="1"/>
<line x1="698.17" y1="217.80" x2="698.17" y2="220.30" stroke="#3c3c3c" stroke-width="1"/>
<line x1="714.22" y1="216.30" x2="714.22" y2="220.30" stroke="#3c3c3c" stroke-width="1"/>
<line x1="730.26" y1="217.80" x2="730.26" y2="220.30" stroke="#3c3c3c" stroke-width="1"/>
<line x1="746.31" y1="217.80" x2="746.31" y2="220.30" stroke="#3c3c3c" stroke-width="1"/>
<line x1="762.36" y1="217.80" x2="762.36" y2="220.30" stroke="#3c3c3c" stroke-width="1"/>
<line x1="778.40" y1="216.30" x2="778.40" y2="220.30" stroke="#3c3c3c" stroke-width="1"/>
<line x1="457.00" y1="209.97" x2="459.50" y2="209.97" stroke="#3c3c3c" stroke-width="1"/>
<line x1="457.00" y1="199.64" x2="459.50" y2="199.64" stroke="#3c3c3c" stroke-width="1"/>
<line x1="457.00" y1="189.31" x2="459.50" y2="189.31" stroke="#3c3c3c" stroke-width="1"/>
<line x1="457.00" y1="178.98" x2="459.50" y2="178.98" stroke="#3c3c3c" stroke-width="1"/>
<line x1="457.00" y1="168.65" x2="461.00" y2="168.65" stroke="#3c3c3c" stroke-width="1"/>
<line x1="457.00" y1="158.32" x2="459.50" y2="158.32" stroke="#3c3c3c" stroke-width="1"/>
<line x1="457.00" y1="147.99" x2="459.50" y2="147.99" stroke="#3c3c3c" stroke-width="1"/>
<line x1="457.00" y1="137.66" x2="459.50" y2="137.66" stroke="#3c3c3c" stroke-width="1"/>
<line x1="457.00" y1="127.33" x2="459.50" y2="127.33" stroke="#3c3c3c" stroke-width="1"/>
<line x1="457.00" y1="117.00" x2="461.00" y2="117.00" stroke="#3c3c3c" stroke-width="1"/>
<line x1="457.00" y1="106.67" x2="459.50" y2="106.67" stroke="#3c3c3c" stroke-width="1"/>
<line x1="457.00" y1="96.34" x2="459.50" y2="96.34" stroke="#3c3c3c" stroke-width="1"/>
<line x1="457.00" y1="86.01" x2="459.50" y2="86.01" stroke="#3c3c3c" stroke-width="1"/>
<line x1="457.00" y1="75.68" x2="459.50" y2="75.68" stroke="#3c3c3c" stroke-width="1"/>
<line x1="457.00" y1="65.35" x2="461.00" y2="65.35" stroke="#3c3c3c" stroke-width="1"/>
<line x1="457.00" y1="55.02" x2="459.50" y2="55.02" stroke="#3c3c3c" stroke-width="1"/>
<line x1="457.00" y1="44.69" x2="459.50" y2="44.69" stroke="#3c3c3c" stroke-width="1"/>
<line x1="457.00" y1="34.36" x2="459.50" y2="34.36" stroke="#3c3c3c" stroke-width="1"/>
<line x1="457.00" y1="24.03" x2="459.50" y2="24.03" stroke="#3c3c3c" stroke-width="1"/>
<line x1="457.00" y1="13.70" x2="461.00" y2="13.70" stroke="#3c3c3c" stroke-width="1"/>
<text transform="translate(457.40,240.40) scale(1,1.055)" font-size="21" text-anchor="middle" letter-spacing="2.0">0.0</text>
<text transform="translate(521.58,240.40) scale(1,1.055)" font-size="21" text-anchor="middle" letter-spacing="2.0">0.2</text>
<text transform="translate(585.76,240.40) scale(1,1.055)" font-size="21" text-anchor="middle" letter-spacing="2.0">0.4</text>
<text transform="translate(649.94,240.40) scale(1,1.055)" font-size="21" text-anchor="middle" letter-spacing="2.0">0.6</text>
<text transform="translate(714.12,240.40) scale(1,1.055)" font-size="21" text-anchor="middle" letter-spacing="2.0">0.8</text>
<text transform="translate(778.30,240.40) scale(1,1.055)" font-size="21" text-anchor="middle" letter-spacing="2.0">1.0</text>
<text transform="translate(454.80,177.75) scale(1,1.055)" font-size="21" text-anchor="end" letter-spacing="3.0">5</text>
<text transform="translate(454.80,126.10) scale(1,1.055)" font-size="21" text-anchor="end" letter-spacing="3.0">10</text>
<text transform="translate(454.80,74.45) scale(1,1.055)" font-size="21" text-anchor="end" letter-spacing="3.0">15</text>
<text transform="translate(454.80,22.80) scale(1,1.055)" font-size="21" text-anchor="end" letter-spacing="3.0">20</text>
<text transform="translate(78.35,30.85) scale(0.1059,0.1291)" font-size="200" fill="#000" stroke="#fff" stroke-width="0.22" vector-effect="non-scaling-stroke">(</text>
<text transform="translate(86.30,31.36) scale(0.1337,0.1208)" font-size="200" font-style="italic" fill="#000" stroke="#fff" stroke-width="0.22" vector-effect="non-scaling-stroke">a</text>
<text transform="translate(99.34,30.85) scale(0.1096,0.1291)" font-size="200" fill="#000" stroke="#fff" stroke-width="0.22" vector-effect="non-scaling-stroke">)</text>
<line x1="152.30" y1="29.20" x2="163.60" y2="29.20" stroke="#000" stroke-width="1.0"/>
<text transform="translate(165.11,33.90) scale(0.1239,0.1076)" font-size="200" fill="#000" stroke="#fff" stroke-width="0.1" vector-effect="non-scaling-stroke">Δ</text>
<text transform="translate(181.34,33.98) scale(0.1295,0.1104)" font-size="200" font-style="italic" fill="#000" stroke="#fff" stroke-width="0.22" vector-effect="non-scaling-stroke">S</text>
<text transform="translate(192.57,37.06) scale(0.0783,0.0683)" font-size="200" fill="#000" stroke="#fff" stroke-width="0.12" vector-effect="non-scaling-stroke">sq</text>
<line x1="249.10" y1="66.60" x2="260.80" y2="66.60" stroke="#000" stroke-width="1.0"/>
<text transform="translate(263.66,72.45) scale(0.1039,0.0896)" font-size="200" fill="#000" stroke="#fff" stroke-width="0.22" vector-effect="non-scaling-stroke">(</text>
<text transform="translate(272.09,71.60) scale(0.0961,0.0837)" font-size="200" font-style="italic" fill="#000" stroke="#fff" stroke-width="0.22" vector-effect="non-scaling-stroke">β</text>
<text transform="translate(283.10,74.60) scale(0.0648,0.0614)" font-size="200" fill="#000" stroke="#fff" stroke-width="0.1" vector-effect="non-scaling-stroke">1</text>
<line x1="297.70" y1="66.60" x2="309.60" y2="66.60" stroke="#000" stroke-width="1.0"/>
<text transform="translate(316.88,71.60) scale(0.0922,0.0837)" font-size="200" font-style="italic" fill="#000" stroke="#fff" stroke-width="0.22" vector-effect="non-scaling-stroke">β</text>
<text transform="translate(326.17,74.60) scale(0.0925,0.0614)" font-size="200" fill="#000" stroke="#fff" stroke-width="0.1" vector-effect="non-scaling-stroke">2</text>
<text transform="translate(335.93,72.45) scale(0.1115,0.0896)" font-size="200" fill="#000" stroke="#fff" stroke-width="0.22" vector-effect="non-scaling-stroke">)</text>
<text transform="translate(345.07,71.50) scale(0.1283,0.0917)" font-size="200" fill="#000" stroke="#fff" stroke-width="0.1" vector-effect="non-scaling-stroke">Δ</text>
<text transform="translate(362.74,71.50) scale(0.1207,0.0924)" font-size="200" font-style="italic" fill="#000" stroke="#fff" stroke-width="0.15" vector-effect="non-scaling-stroke">E</text>
<text transform="translate(376.83,74.73) scale(0.0843,0.0597)" font-size="200" fill="#000" stroke="#fff" stroke-width="0.12" vector-effect="non-scaling-stroke">sq</text>
<text transform="translate(325.00,112.50) scale(0.1415,0.1022)" font-size="200" font-style="italic" fill="#000" stroke="#fff" stroke-width="0.16" vector-effect="non-scaling-stroke">μ</text>
<line x1="344.00" y1="109.30" x2="344.00" y2="115.70" stroke="#000" stroke-width="0.9" stroke-linecap="round"/>
<line x1="340.88" y1="110.90" x2="347.12" y2="114.10" stroke="#000" stroke-width="0.9" stroke-linecap="round"/>
<line x1="347.12" y1="110.90" x2="340.88" y2="114.10" stroke="#000" stroke-width="0.9" stroke-linecap="round"/>
<text transform="translate(325.90,166.98) scale(0.1287,0.1052)" font-size="200" font-style="italic" fill="#000" stroke="#fff" stroke-width="0.16" vector-effect="non-scaling-stroke">μ</text>
<text transform="translate(376.85,190.00) scale(0.0814,0.0702)" font-size="200" font-style="italic" fill="#000" >r</text>
<text transform="translate(383.94,192.10) scale(0.0625,0.0432)" font-size="200" fill="#000" >2</text>
<text transform="translate(209.02,252.70) scale(0.1229,0.1213)" font-size="200" font-style="italic" fill="#000" stroke="#fff" stroke-width="0.22" vector-effect="non-scaling-stroke">r</text>
<text transform="translate(218.94,256.30) scale(0.1062,0.0811)" font-size="200" fill="#000" stroke="#fff" stroke-width="0.05" vector-effect="non-scaling-stroke">2</text>
<text transform="translate(484.08,34.96) scale(0.1020,0.1335)" font-size="200" fill="#000" stroke="#fff" stroke-width="0.22" vector-effect="non-scaling-stroke">(</text>
<text transform="translate(492.24,34.66) scale(0.0943,0.1191)" font-size="200" font-style="italic" fill="#000" stroke="#fff" stroke-width="0.22" vector-effect="non-scaling-stroke">b</text>
<text transform="translate(502.47,34.96) scale(0.1058,0.1335)" font-size="200" fill="#000" stroke="#fff" stroke-width="0.22" vector-effect="non-scaling-stroke">)</text>
<text transform="translate(545.29,113.40) scale(0.1257,0.0894)" font-size="200" fill="#000" stroke="#fff" stroke-width="0.1" vector-effect="non-scaling-stroke">Δ</text>
<text transform="translate(562.65,113.40) scale(0.1248,0.0901)" font-size="200" font-style="italic" fill="#000" stroke="#fff" stroke-width="0.22" vector-effect="non-scaling-stroke">E</text>
<text transform="translate(577.67,117.07) scale(0.0825,0.0656)" font-size="200" fill="#000" stroke="#fff" stroke-width="0.1" vector-effect="non-scaling-stroke">max</text>
<line x1="582.50" y1="101.00" x2="582.50" y2="106.20" stroke="#000" stroke-width="0.8" stroke-linecap="round"/>
<line x1="580.25" y1="102.30" x2="584.75" y2="104.90" stroke="#000" stroke-width="0.8" stroke-linecap="round"/>
<line x1="584.75" y1="102.30" x2="580.25" y2="104.90" stroke="#000" stroke-width="0.8" stroke-linecap="round"/>
<text transform="translate(657.12,130.10) scale(0.1345,0.0970)" font-size="200" fill="#000" stroke="#fff" stroke-width="0.1" vector-effect="non-scaling-stroke">Δ</text>
<text transform="translate(675.85,130.10) scale(0.1248,0.0977)" font-size="200" font-style="italic" fill="#000" stroke="#fff" stroke-width="0.22" vector-effect="non-scaling-stroke">E</text>
<text transform="translate(689.59,133.12) scale(0.0892,0.0669)" font-size="200" fill="#000" stroke="#fff" stroke-width="0.12" vector-effect="non-scaling-stroke">sq</text>
<text transform="translate(733.59,146.20) scale(0.1133,0.0886)" font-size="200" fill="#000" stroke="#fff" stroke-width="0.1" vector-effect="non-scaling-stroke">Δ</text>
<g fill="none" stroke="#000" stroke-linecap="round" stroke-linejoin="round"><path d="M758.7,134.0 L761.6,146.0" stroke-width="1.7"/><path d="M758.6,134.0 C756.4,138.4 753.6,143.6 750.9,145.5 C749.9,146.2 748.9,145.9 749.2,144.9" stroke-width="1.05"/><path d="M753.2,141.9 L760.6,141.9" stroke-width="0.8"/></g>
<text transform="translate(763.94,150.00) scale(0.0708,0.0641)" font-size="200" font-style="italic" fill="#000" stroke="#fff" stroke-width="0.1" vector-effect="non-scaling-stroke">M</text>
<text transform="translate(699.55,195.30) scale(0.1186,0.0917)" font-size="200" fill="#000" stroke="#fff" stroke-width="0.1" vector-effect="non-scaling-stroke">Δ</text>
<text transform="translate(715.06,195.41) scale(0.1211,0.0940)" font-size="200" font-style="italic" fill="#000" stroke="#fff" stroke-width="0.22" vector-effect="non-scaling-stroke">S</text>
<text transform="translate(726.57,197.32) scale(0.0789,0.0763)" font-size="200" fill="#000" stroke="#fff" stroke-width="0.12" vector-effect="non-scaling-stroke">sq</text>
<text transform="translate(740.90,199.71) scale(0.1418,0.1455)" font-size="200" fill="#000" stroke="#fff" stroke-width="0.22" vector-effect="non-scaling-stroke">/</text>
<text transform="translate(750.01,195.39) scale(0.1098,0.1071)" font-size="200" fill="#000" stroke="#fff" stroke-width="0.22" vector-effect="non-scaling-stroke">(</text>
<text transform="translate(757.79,194.91) scale(0.0951,0.0951)" font-size="200" font-style="italic" fill="#000" stroke="#fff" stroke-width="0.22" vector-effect="non-scaling-stroke">β</text>
<text transform="translate(768.10,197.70) scale(0.0648,0.0629)" font-size="200" fill="#000" stroke="#fff" stroke-width="0.1" vector-effect="non-scaling-stroke">1</text>
<line x1="781.90" y1="190.60" x2="792.90" y2="190.60" stroke="#000" stroke-width="1.0"/>
<text transform="translate(800.29,194.91) scale(0.0951,0.0951)" font-size="200" font-style="italic" fill="#000" stroke="#fff" stroke-width="0.22" vector-effect="non-scaling-stroke">β</text>
<text transform="translate(809.90,197.70) scale(0.0775,0.0629)" font-size="200" fill="#000" stroke="#fff" stroke-width="0.1" vector-effect="non-scaling-stroke">2</text>
<text transform="translate(818.35,195.39) scale(0.1077,0.1071)" font-size="200" fill="#000" stroke="#fff" stroke-width="0.22" vector-effect="non-scaling-stroke">)</text>
<text transform="translate(608.76,252.70) scale(0.1171,0.1213)" font-size="200" font-style="italic" fill="#000" stroke="#fff" stroke-width="0.22" vector-effect="non-scaling-stroke">r</text>
<text transform="translate(619.23,256.30) scale(0.0746,0.0811)" font-size="200" fill="#000" stroke="#fff" stroke-width="0.05" vector-effect="non-scaling-stroke">1</text>
</svg>
</body></html>
